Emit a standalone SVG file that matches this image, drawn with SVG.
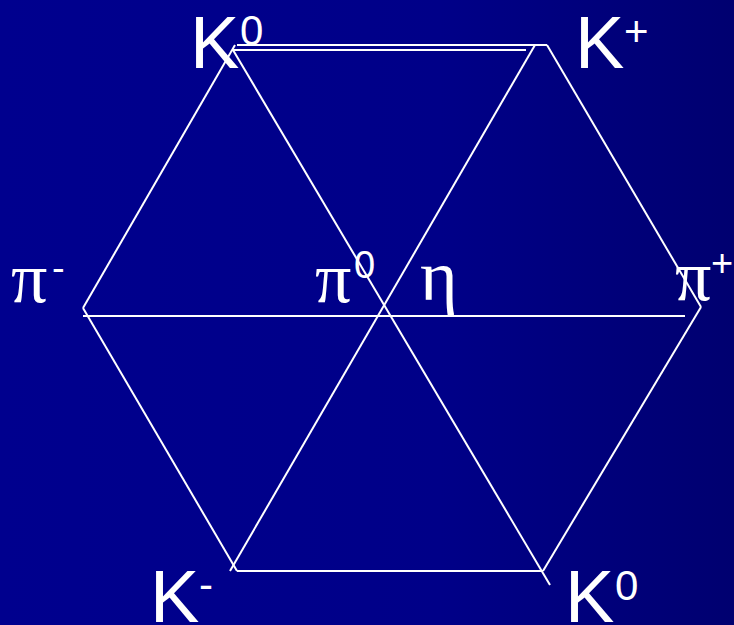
<svg xmlns="http://www.w3.org/2000/svg" width="734" height="625" viewBox="0 0 734 625">
<defs>
<linearGradient id="bg" x1="0" y1="0" x2="1" y2="0">
<stop offset="0" stop-color="#00008e"/>
<stop offset="0.6" stop-color="#000088"/>
<stop offset="1" stop-color="#000070"/>
</linearGradient>
<style>
.l{stroke:#ffffff;stroke-width:2;fill:none}
.k{font-family:"Liberation Sans",Arial,sans-serif;font-size:74px;fill:#ffffff}
.g{font-family:"Liberation Serif","Times New Roman",serif;font-size:72px;fill:#ffffff}
.s{font-family:"Liberation Sans",Arial,sans-serif;fill:#ffffff}
</style>
</defs>
<rect x="0" y="0" width="734" height="625" fill="url(#bg)"/>
<g id="connectors">
<line class="l" x1="237" y1="45" x2="547" y2="45"/>
<line class="l" x1="232" y1="50" x2="526" y2="50"/>
<line class="l" x1="83" y1="316" x2="685" y2="316"/>
<line class="l" x1="237" y1="571" x2="543" y2="571"/>
<line class="l" x1="235" y1="45" x2="83" y2="308"/>
<line class="l" x1="83" y1="308" x2="237" y2="571"/>
<line class="l" x1="547" y1="45" x2="701" y2="307"/>
<line class="l" x1="701" y1="307" x2="543" y2="571"/>
<line class="l" x1="233" y1="50" x2="550" y2="585"/>
<line class="l" x1="535" y1="45" x2="230" y2="571"/>
</g>
<g id="K0top"><text class="k" x="190" y="68">K</text><text class="s" x="240" y="45" font-size="42">0</text></g>
<g id="Kplus"><text class="k" x="575" y="68">K</text><text class="s" x="624" y="46" font-size="42">+</text></g>
<g id="piminus"><text class="g" x="11" y="302">π</text><text class="s" x="52" y="281" font-size="38">-</text></g>
<g id="pi0"><text class="g" x="315" y="302">π</text><text class="s" x="354" y="278" font-size="38">0</text></g>
<g id="eta"><text class="g" x="420" y="300">η</text></g>
<g id="piplus"><text class="g" x="675" y="300">π</text><text class="s" x="711" y="276" font-size="38">+</text></g>
<g id="Kminus"><text class="k" x="150" y="622">K</text><text class="s" x="199" y="599" font-size="42">-</text></g>
<g id="K0bottom"><text class="k" x="565" y="622">K</text><text class="s" x="615" y="600" font-size="42">0</text></g>
</svg>
